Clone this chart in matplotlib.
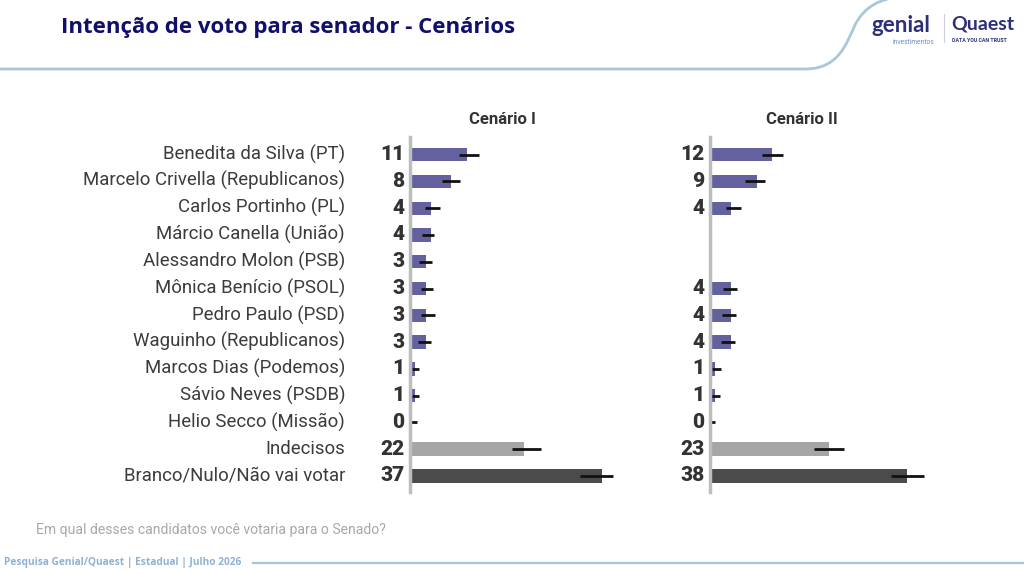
import numpy as np
import matplotlib.pyplot as plt
from matplotlib.patches import PathPatch
from matplotlib.path import Path

plt.rcParams['font.family'] = ['Roboto', 'DejaVu Sans']

candidatos = [
    "Benedita da Silva (PT)", "Marcelo Crivella (Republicanos)", "Carlos Portinho (PL)",
    "Márcio Canella (União)", "Alessandro Molon (PSB)", "Mônica Benício (PSOL)",
    "Pedro Paulo (PSD)", "Waguinho (Republicanos)", "Marcos Dias (Podemos)",
    "Sávio Neves (PSDB)", "Helio Secco (Missão)", "Indecisos", "Branco/Nulo/Não vai votar",
]
nan = np.nan
cen1 = [11, 8, 4, 4, 3, 3, 3, 3, 1, 1, 0, 22, 37]
cen1_lo = [9.4, 6.1, 2.9, 2.4, 1.7, 2.1, 2.1, 1.6, 0.45, 0.3, 0.0, 19.6, 32.8]
cen1_hi = [13.3, 9.6, 5.8, 4.7, 4.2, 4.4, 4.8, 4.0, 1.8, 1.7, 1.4, 25.2, 39.1]
cen2 = [12, 9, 4, nan, nan, 4, 4, 4, 1, 1, 0, 23, 38]
cen2_lo = [10.0, 6.8, 3.1, nan, nan, 2.5, 2.3, 2.1, 0.4, 0.25, 0.0, 20.0, 34.9]
cen2_hi = [14.0, 10.6, 5.9, nan, nan, 5.2, 5.1, 4.8, 2.2, 1.9, 1.0, 25.8, 41.3]
bar_vals = {1: 0.9, 0: 0}  # os "1" aparecem um pouco mais curtos

cores = ["#64619f"] * 11 + ["#a6a6a6", "#4b4b4b"]

W, H = 1024, 574
fig = plt.figure(figsize=(W / 100, H / 100), dpi=100)
fig.patch.set_facecolor("white")


def fx(px):
    return px / W


def fy(py):
    return 1 - py / H


# linha do cabeçalho com a curva
bg = fig.add_axes([0, 0, 1, 1])
bg.set_xlim(0, W)
bg.set_ylim(H, 0)
bg.axis("off")
verts = [(0, 69), (805, 69), (838, 69), (846, 45), (855, 25), (865, 5), (882, 0), (892, -2)]
codes = [Path.MOVETO, Path.LINETO, Path.CURVE4, Path.CURVE4, Path.CURVE4, Path.CURVE4, Path.CURVE4, Path.LINETO]
bg.add_patch(PathPatch(Path(verts, codes), fill=False, edgecolor="#a9c6da", lw=2))
bg.plot([253, W], [563, 563], color="#aac4de", lw=1.6)

fig.text(fx(61), fy(27), "Intenção de voto para senador - Cenários", fontsize=16,
         fontweight="bold", color="#10106c", family=["Open Sans", "DejaVu Sans"], va="center")

# logo
fig.text(fx(872), fy(25), "genial", fontsize=16, color="#2c2f78", fontweight="bold",
         va="center", family=["Lato", "DejaVu Sans"])
fig.text(fx(893), fy(42), "investimentos", fontsize=4.8, color="#6a8fc4", va="center")
bg.plot([944, 944], [14, 42], color="#c9cfe0", lw=0.8)
fig.text(fx(951), fy(24), "Quaest", fontsize=14, color="#2c2f78", fontweight="bold",
         va="center", family=["Lato", "DejaVu Sans"])
fig.text(fx(952), fy(41), "DATA YOU CAN TRUST", fontsize=3.8, color="#2c2f78",
         fontweight="bold", va="center")

fig.text(fx(36), fy(530), "Em qual desses candidatos você votaria para o Senado?",
         fontsize=10.1, color="#a8a8a8", va="center")
fig.text(fx(4), fy(563), "Pesquisa Genial/Quaest | Estadual | Julho 2026", fontsize=7.3,
         color="#8fb1d4", fontweight="bold", va="center", family=["Open Sans", "DejaVu Sans"])

y = np.arange(len(candidatos))
paineis = [
    (410, "Cenário I", cen1, cen1_lo, cen1_hi),
    (710, "Cenário II", cen2, cen2_lo, cen2_hi),
]
for left, titulo, vals, lo, hi in paineis:
    ax = fig.add_axes([fx(left), fy(492), 259 / W, 355 / H])
    ax.set_xlim(0, 50)
    ax.set_ylim(12.63, -0.63)
    vals = np.array(vals, dtype=float)
    lens = [bar_vals.get(v, v) if not np.isnan(v) else 0 for v in vals]
    ax.barh(y + 0.03, lens, height=0.5, color=cores)
    ax.hlines(y + 0.03, lo, hi, color="#111111", lw=2)
    for i, v in enumerate(vals):
        if np.isnan(v):
            continue
        ax.annotate(f"{int(v)}", (0, i + 0.03), xytext=(-4, 0), textcoords="offset points",
                    ha="right", va="center", fontsize=15, fontweight="heavy", color="#333333")
    for s in ["top", "right", "bottom"]:
        ax.spines[s].set_visible(False)
    ax.spines["left"].set_color("#bdbdbd")
    ax.spines["left"].set_linewidth(2.5)
    ax.set_xticks([])
    ax.set_yticks([])
    ax.patch.set_alpha(0)
    fig.text(fx(left + 92), fy(119), titulo, fontsize=12, fontweight="bold",
             color="#333333", ha="center", va="center")

for i, nome in enumerate(candidatos):
    fig.text(fx(345), fy(154 + i * 26.83), nome, fontsize=13.4, color="#3c3c3c",
             ha="right", va="center")

fig.savefig("out.png", dpi=100, facecolor="white")
